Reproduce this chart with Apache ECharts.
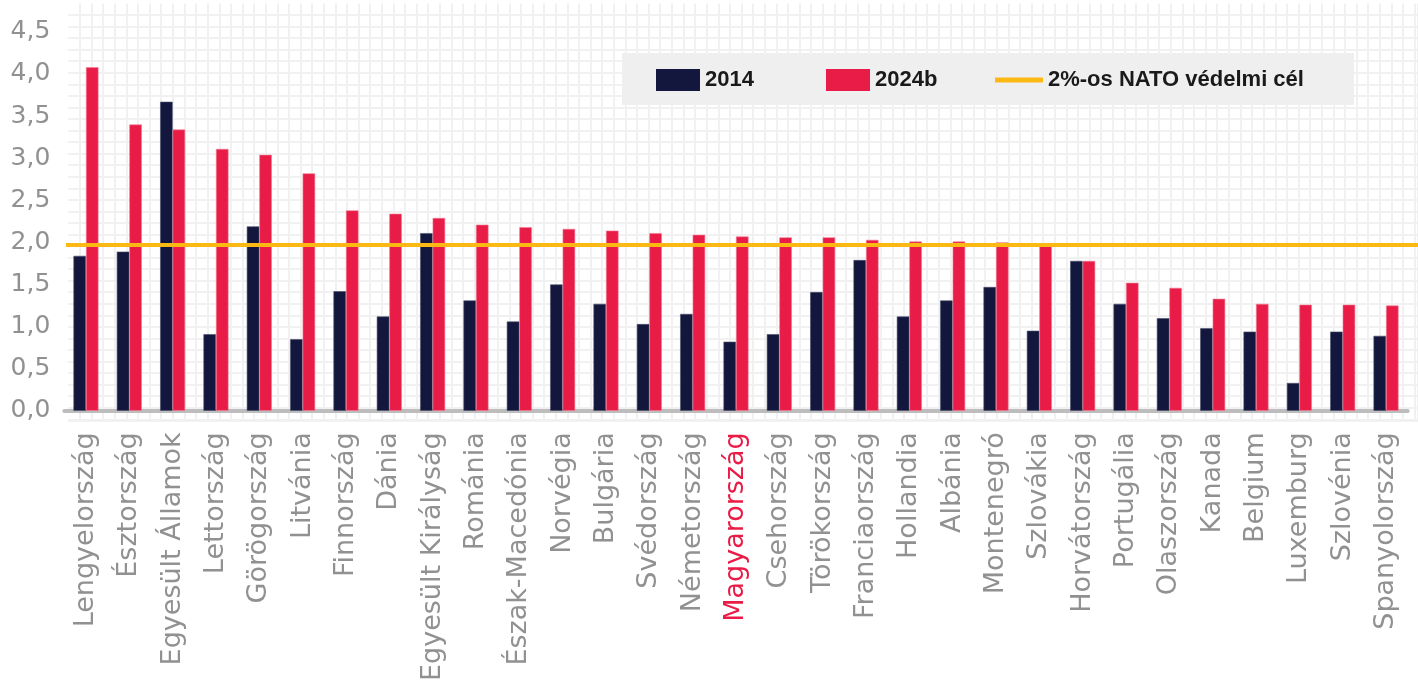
<!DOCTYPE html>
<html>
<head>
<meta charset="utf-8">
<script src="https://cdn.jsdelivr.net/npm/echarts@6/dist/echarts.min.js"></script>
<style>
  html, body { margin: 0; padding: 0; background: #fff; }
  #chart { width: 1418px; height: 684px; }
</style>
</head>
<body>
<div id="chart"></div>
<script>
// országok, védelmi kiadás a GDP %-ában
var countries = ['Lengyelország', 'Észtország', 'Egyesült Államok', 'Lettország', 'Görögország', 'Litvánia',
  'Finnország', 'Dánia', 'Egyesült Királyság', 'Románia', 'Észak-Macedónia', 'Norvégia', 'Bulgária',
  'Svédország', 'Németország', 'Magyarország', 'Csehország', 'Törökország', 'Franciaország', 'Hollandia',
  'Albánia', 'Montenegró', 'Szlovákia', 'Horvátország', 'Portugália', 'Olaszország', 'Kanada', 'Belgium',
  'Luxemburg', 'Szlovénia', 'Spanyolország'];
var v2014 = [1.84, 1.89, 3.67, 0.91, 2.19, 0.85, 1.42, 1.12, 2.11, 1.31, 1.06, 1.50, 1.27, 1.03, 1.15, 0.82,
  0.91, 1.41, 1.79, 1.12, 1.31, 1.47, 0.95, 1.78, 1.27, 1.10, 0.98, 0.94, 0.33, 0.94, 0.89];
var v2024 = [4.08, 3.40, 3.34, 3.11, 3.04, 2.82, 2.38, 2.34, 2.29, 2.21, 2.18, 2.16, 2.14, 2.11, 2.09, 2.07,
  2.06, 2.06, 2.03, 2.01, 2.01, 2.00, 1.97, 1.78, 1.52, 1.46, 1.33, 1.27, 1.26, 1.26, 1.25];
var natoTarget = 2;
var seriesNames = ['2014', '2024b', '2%-os NATO védelmi cél'];
var highlight = 'Magyarország';

var navy = '#13173d';
var red = '#e91c47';
var orange = '#fdb913';
var labelGray = '#919191';

var chart = echarts.init(document.getElementById('chart'), null, { renderer: 'canvas' });

var legendText = { fontFamily: 'Liberation Sans', fontWeight: 'bold', fontSize: 22, color: '#1a1a1a' };

var option = {
  backgroundColor: '#ffffff',
  animation: false,
  graphic: [{
    type: 'rect',
    z: 5,
    shape: { x: 622, y: 53, width: 732, height: 52 },
    style: { fill: '#efefef' }
  }],
  legend: [{
    data: [{ name: seriesNames[0], icon: 'rect' }], left: 656, top: 69, padding: 0, z: 10,
    itemWidth: 44, itemHeight: 22, selectedMode: false, textStyle: legendText,
    itemStyle: { borderWidth: 0 }
  }, {
    data: [{ name: seriesNames[1], icon: 'rect' }], left: 826, top: 69, padding: 0, z: 10,
    itemWidth: 44, itemHeight: 22, selectedMode: false, textStyle: legendText,
    itemStyle: { borderWidth: 0 }
  }, {
    data: [{ name: seriesNames[2], icon: 'rect' }], left: 995, top: 69, padding: 0, z: 10,
    itemWidth: 48, itemHeight: 5, selectedMode: false, textStyle: legendText,
    itemStyle: { color: orange, borderWidth: 0 }
  }],
  grid: [
    // fő diagram
    { left: 64.3, right: 10.3, top: 31.9, bottom: 268.5 },
    // célvonal
    { left: 66, right: 0, top: 31.9, bottom: 268.5 },
    // kockás háttér
    { left: 68.4, right: 0, top: 3.45, bottom: 263 }
  ],
  xAxis: [{
    type: 'category',
    gridIndex: 0,
    data: countries,
    offset: 2.5,
    axisLine: { lineStyle: { color: '#bdbdbd', width: 4 } },
    axisTick: { show: false },
    splitLine: { show: false },
    axisLabel: {
      interval: 0,
      rotate: 90,
      margin: 19,
      fontFamily: 'DejaVu Sans',
      fontSize: 27,
      color: function (value) {
        return value === highlight ? red : labelGray;
      }
    }
  }, {
    type: 'value', gridIndex: 1, min: 0, max: 1, show: false
  }, {
    type: 'value', gridIndex: 2, min: 0, max: 116.3, interval: 1,
    axisLine: { show: false }, axisTick: { show: false }, axisLabel: { show: false },
    splitLine: { show: true, showMinLine: false, lineStyle: { color: '#f1f1f1', width: 2 } }
  }],
  yAxis: [{
    type: 'value',
    gridIndex: 0,
    min: 0,
    max: 4.5,
    interval: 0.5,
    axisLine: { show: false },
    axisTick: { show: false },
    splitLine: { show: false },
    axisLabel: {
      margin: 14,
      fontFamily: 'DejaVu Sans',
      fontSize: 25,
      color: labelGray,
      formatter: function (v) { return v.toFixed(1).replace('.', ','); }
    }
  }, {
    type: 'value', gridIndex: 1, min: 0, max: 4.5, show: false
  }, {
    type: 'value', gridIndex: 2, min: 0, max: 36.15, interval: 1, inverse: true,
    axisLine: { show: false }, axisTick: { show: false }, axisLabel: { show: false },
    splitLine: { show: true, showMinLine: false, lineStyle: { color: '#f1f1f1', width: 2 } }
  }],
  series: [{
    name: seriesNames[0],
    type: 'bar',
    xAxisIndex: 0,
    yAxisIndex: 0,
    barWidth: 12.5,
    barGap: '0%',
    itemStyle: { color: navy, borderColor: '#4a4d6a', borderWidth: 0.6 },
    data: v2014
  }, {
    name: seriesNames[1],
    type: 'bar',
    xAxisIndex: 0,
    yAxisIndex: 0,
    barWidth: 12.5,
    barGap: '0%',
    itemStyle: { color: red, borderColor: '#f07a92', borderWidth: 0.6 },
    data: v2024
  }, {
    name: seriesNames[2],
    type: 'line',
    xAxisIndex: 1,
    yAxisIndex: 1,
    z: 3,
    symbol: 'none',
    lineStyle: { color: orange, width: 4 },
    itemStyle: { color: orange },
    data: [[0, natoTarget], [1, natoTarget]]
  }]
};

chart.setOption(option);
</script>
</body>
</html>
